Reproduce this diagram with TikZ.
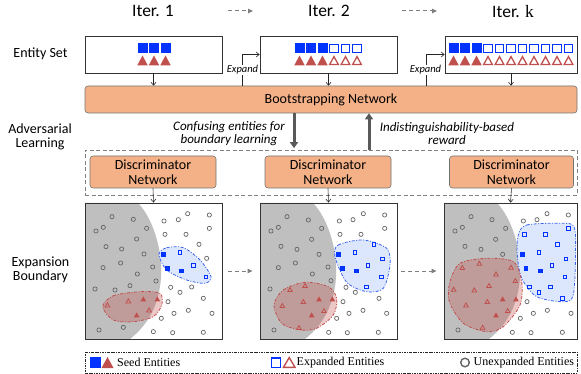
\documentclass[tikz,border=0pt]{standalone}
\usepackage{fontspec}
\setmainfont{Carlito}
\newfontfamily\legfont{Liberation Serif}
\usetikzlibrary{arrows.meta}
\definecolor{orng}{RGB}{244,177,136}
\definecolor{bl}{RGB}{0,51,255}
\definecolor{bdl}{RGB}{60,100,240}
\definecolor{rd}{RGB}{192,80,77}
\definecolor{lbl}{RGB}{220,230,252}
\definecolor{gr}{RGB}{191,191,191}
\definecolor{dk}{RGB}{89,89,89}
\definecolor{cgr}{RGB}{100,100,100}
\tikzset{
 bsqF/.pic={\fill[fill=bl] (-5,-5) rectangle (5,5);},
 bsqO/.pic={\filldraw[draw=bl,fill=white,line width=1.3pt] (-4.3,-4.3) rectangle (4.3,4.3);},
 btrF/.pic={\fill[fill=rd] (-5.2,4.8) -- (5.2,4.8) -- (0,-5) -- cycle;},
 btrO/.pic={\filldraw[draw=rd,fill=white,line width=1.3pt,line join=miter] (-4.4,4.1) -- (4.4,4.1) -- (0,-3.9) -- cycle;},
 ssqF/.pic={\fill[fill=bl] (-2.4,-2.4) rectangle (2.4,2.4);},
 ssqO/.pic={\draw[draw=bl,line width=0.9pt] (-1.9,-1.9) rectangle (1.9,1.9);},
 strF/.pic={\fill[fill=rd] (-2.8,2.3) -- (2.8,2.3) -- (0,-2.6) -- cycle;},
 strO/.pic={\draw[draw=rd,line width=0.8pt] (-2.3,1.9) -- (2.3,1.9) -- (0,-2.1) -- cycle;},
 cir/.pic={\draw[draw=cgr,line width=0.7pt] (0,0) circle (2.1);},
}
\begin{document}
\begin{tikzpicture}[x=1pt,y=-1pt,
  ebox/.style={draw=black!80,line width=0.8pt,inner sep=0pt,minimum height=37pt},
  bbox/.style={draw=black!80,line width=0.9pt,inner sep=0pt,minimum height=136pt},
  onode/.style={draw=black!55,line width=0.6pt,fill=orng,rounded corners=3pt,
     font=\fontsize{14}{14.5}\selectfont,align=center,inner sep=0pt},
  arr/.style={draw=black!85,line width=0.6pt,-{Straight Barb[length=3pt,width=5pt]}},
  thk/.style={draw=dk,line width=3pt,-{Triangle[length=6pt,width=8pt]}},
  gdash/.style={draw=gray,line width=1pt,dash pattern=on 4pt off 3pt,-{Triangle[length=5pt,width=4.5pt]}},
  lab/.style={font=\fontsize{14}{14}\selectfont,align=center,inner sep=0pt},
  itlab/.style={font=\fontsize{13}{13.5}\selectfont\itshape,align=center,inner sep=0pt},
  explbl/.style={font=\fontsize{10.5}{12}\selectfont\itshape,fill=white,inner sep=0.8pt},
  bblob/.style={fill=lbl,draw=bdl,line width=0.8pt,dash pattern=on 3pt off 1.5pt on 1pt off 1.5pt},
  rblob/.style={fill=rd,fill opacity=0.32,draw=rd,draw opacity=1,line width=0.8pt,dash pattern=on 3pt off 1.5pt on 1pt off 1.5pt},
  legtext/.style={font=\legfont\fontsize{12}{12}\selectfont,inner sep=0pt,anchor=west},
]
\useasboundingbox (0,0) rectangle (581,374);

% ---------- titles ----------
\node[font=\fontsize{17.5}{18}\selectfont,inner sep=0pt] (it1) at (153,11) {Iter. 1};
\node[font=\fontsize{17.5}{18}\selectfont,inner sep=0pt] (it2) at (329,11) {Iter. 2};
\node[font=\fontsize{17.5}{18}\selectfont,inner sep=0pt] (itk) at (513,11) {Iter. {\legfont k}};
\coordinate (ia1) at (228,11); \coordinate (ia2) at (253,11);
\coordinate (ib1) at (402,11); \coordinate (ib2) at (437,11);
\draw[gdash] (ia1) -- (ia2);
\draw[gdash] (ib1) -- (ib2);

% ---------- left labels ----------
\node[lab] (lent) at (40.5,54) {Entity Set};
\node[lab] (ladv) at (40,137) {Adversarial\\Learning};
\node[lab] (lexp) at (40.5,270) {Expansion\\Boundary};

% ---------- entity sets ----------
\node[ebox,minimum width=137pt] (e1) at (153.5,54.5) {};
\node[ebox,minimum width=137pt] (e2) at (328.5,54.5) {};
\node[ebox,minimum width=132pt] (e3) at (511,54.5) {};
\foreach \i in {0,1,2} {
  \pic at ({142.5+11.5*\i},48.5) {bsqF}; \pic at ({142.5+11.5*\i},60.5) {btrF};
  \pic at ({299.5+11.5*\i},48.5) {bsqF}; \pic at ({299.5+11.5*\i},60.5) {btrF};
  \pic at ({453.5+11.5*\i},48.5) {bsqF}; \pic at ({453.5+11.5*\i},60.5) {btrF};
}
\foreach \i in {3,4,5} {
  \pic at ({299.5+11.5*\i},48.5) {bsqO}; \pic at ({299.5+11.5*\i},60.5) {btrO};
}
\foreach \i in {3,...,10} {
  \pic at ({453.5+11.5*\i},48.5) {bsqO}; \pic at ({453.5+11.5*\i},60.5) {btrO};
}

% ---------- bootstrapping network ----------
\node[onode,minimum width=492pt,minimum height=27pt] (boot) at (331,99.5) {Bootstrapping Network};
\draw[arr] (e1.south) -- (e1.south |- boot.north);
\draw[arr] (e2.south) -- (e2.south |- boot.north);
\draw[arr] (e3.south) -- (e3.south |- boot.north);
\coordinate (x1) at (242,0);
\coordinate (x2) at (426,0);
\draw[arr] (boot.north -| x1) |- (e2.west);
\draw[arr] (boot.north -| x2) |- (e3.west);
\node[explbl] (ex1) at (242.5,70) {Expand};
\node[explbl] (ex2) at (425.5,70) {Expand};

% ---------- adversarial learning ----------
\node[draw=gray,line width=0.7pt,dash pattern=on 4pt off 2.5pt,minimum width=492pt,minimum height=45pt,inner sep=0pt] (adv) at (331,172.5) {};
\node[onode,minimum width=126pt,minimum height=32pt] (d1) at (153,172) {Discriminator\\Network};
\node[onode,minimum width=126pt,minimum height=32pt] (d2) at (328,172) {Discriminator\\Network};
\node[onode,minimum width=124pt,minimum height=32pt] (d3) at (511.5,172) {Discriminator\\Network};
\coordinate (dn) at (294,0);
\coordinate (upc) at (369,0);
\draw[thk,shorten >=1.5pt] (boot.south -| dn) -- (adv.north -| dn);
\draw[thk] (adv.north -| upc) -- (boot.south -| upc);
\node[itlab] (conf) at (229,133.5) {Confusing entities for\\boundary learning};
\node[itlab] (indi) at (447,133.5) {Indistinguishability-based\\reward};

% ---------- boundary box 1 ----------
\fill[gr] (85,203) -- (138,203) .. controls (160,225) and (180,300) .. (130,339) -- (85,339) -- cycle;
\filldraw[bblob] plot[smooth cycle] coordinates {(159,254.3) (166.7,247.7) (183.3,247.7) (200,260) (211,276.7) (205,283.3) (186.7,280) (166.7,270)};
\filldraw[rblob] plot[smooth cycle] coordinates {(102.7,306.7) (113.3,295.7) (140,291.7) (160,293.3) (161.7,305) (153.3,316.7) (133.3,321.7) (113.3,320)};
\foreach \x/\y in {96/65,160/73,70/97,48/108,200/100,252/78,295/74,323/56,388/60,388/100,170/132,78/155,125/162,255/118,318/118,192/177,357/148,69/218,122/204,218/216,380/190,172/237,150/272,45/282,105/285,228/258,272/277,300/292,335/276,370/310,264/320,282/355,325/346,396/355,244/370,57/405,130/397,220/410,278/413,370/412}
  \pic at ({80+\x/3},{195+\y/3}) {cir};
\foreach \x/\y in {250/178,262/220,305/228} \pic at ({80+\x/3},{195+\y/3}) {ssqF};
\foreach \x/\y in {300/172,340/212,378/246} \pic at ({80+\x/3},{195+\y/3}) {ssqO};
\foreach \x/\y in {82/330,145/318,207/345} \pic at ({80+\x/3},{195+\y/3}) {strO};
\foreach \x/\y in {190/312,232/312,170/360} \pic at ({80+\x/3},{195+\y/3}) {strF};
\node[bbox,minimum width=137pt] (b1) at (153.5,271) {};

% ---------- boundary box 2 ----------
\begin{scope}[xshift=175pt]
\fill[gr] (85,203) -- (138,203) .. controls (160,225) and (180,300) .. (130,339) -- (85,339) -- cycle;
\end{scope}
\filldraw[bblob] plot[smooth cycle] coordinates {(335,256.7) (338.3,245) (363.3,240) (386.7,248.3) (390,265) (383.3,288.3) (366.7,291.7) (346.7,282.3)};
\filldraw[rblob] plot[smooth cycle] coordinates {(274,305) (283.3,290) (305,282.3) (328.3,286.7) (336.7,298.3) (333.3,315) (316.7,328.3) (300,330) (281.7,323.3)};
\foreach \x/\y in {111/65,175/75,63/108,85/97,215/100,268/78,309/74,340/56,404/60,404/100,185/133,93/154,141/163,270/118,333/118,207/178,85/218,136/204,234/216,187/237,243/257,60/282,288/277,316/292,387/310,279/320,297/355,339/346,410/355,260/370,72/405,236/412,292/413,385/412}
  \pic at ({250+\x/3},{195+\y/3}) {cir};
\foreach \x/\y in {265/178,277/220,320/228} \pic at ({250+\x/3},{195+\y/3}) {ssqF};
\foreach \x/\y in {315/172,372/148,397/192,354/211,394/246,350/276} \pic at ({250+\x/3},{195+\y/3}) {ssqO};
\foreach \x/\y in {165/272,120/284,97/332,160/320,222/347,147/398} \pic at ({250+\x/3},{195+\y/3}) {strO};
\foreach \x/\y in {207/312,247/312,185/360} \pic at ({250+\x/3},{195+\y/3}) {strF};
\node[bbox,minimum width=137pt] (b2) at (328.5,271) {};

% ---------- boundary box 3 ----------
\begin{scope}
\clip (444,203) rectangle (577,339);
\begin{scope}[xshift=359pt]
\fill[gr] (85,203) -- (138,203) .. controls (160,225) and (180,300) .. (130,339) -- (85,339) -- cycle;
\end{scope}
\filldraw[bblob] plot[smooth cycle] coordinates {(518.3,235) (526.7,225) (560,223.3) (574,226.7) (575.5,255) (573.3,295) (563.3,301.7) (536.7,296.7) (521.7,278.3) (517.3,255)};
\filldraw[rblob] plot[smooth cycle] coordinates {(450,281.7) (460,263.3) (486.7,258.3) (513.3,261.7) (521.7,281.7) (520,305) (503.3,326.7) (486.7,331.7) (463.3,323.3) (449.3,301.7)};
\end{scope}
\foreach \x/\y in {183/65,246/74,135/108,157/97,287/100,340/78,381/74,411/56,475/60,257/133,165/154,213/163,278/178,351/320,370/355,412/346,483/355,331/370,144/405,307/412,363/413,457/412}
  \pic at ({410+\x/3},{195+\y/3}) {cir};
\foreach \x/\y in {337/178,348/220,392/228} \pic at ({410+\x/3},{195+\y/3}) {ssqF};
\foreach \x/\y in {343/118,406/118,475/100,443/148,387/172,468/192,426/211,465/246,359/276,387/292,422/276,457/310} \pic at ({410+\x/3},{195+\y/3}) {ssqO};
\foreach \x/\y in {208/205,157/218,258/237,316/257,131/283,193/285,237/272,168/330,232/320,293/347,218/397,303/217} \pic at ({410+\x/3},{195+\y/3}) {strO};
\foreach \x/\y in {278/312,318/312,258/360} \pic at ({410+\x/3},{195+\y/3}) {strF};
\node[bbox,minimum width=133pt] (b3) at (510.5,271) {};

\draw[arr] (d1.south) -- (b1.north);
\draw[arr] (d2.south) -- (b2.north);
\draw[arr] (d3.south) -- (b3.north);
\draw[gdash] ([xshift=6pt]b1.east) -- ([xshift=-7pt]b2.west);
\draw[gdash] ([xshift=4pt]b2.east) -- ([xshift=-7pt]b3.west);

% ---------- legend ----------
\node[draw=black!85,line width=0.7pt,dash pattern=on 2.5pt off 1pt on 0.8pt off 1pt,minimum width=492pt,minimum height=21pt,inner sep=0pt] (leg) at (331,362.5) {};
\fill[fill=bl] (90,357) rectangle (101,368);
\fill[fill=rd] (101.5,368) -- (113.5,368) -- (107.5,357) -- cycle;
\node[legtext] (lg1) at (117,362.8) {Seed Entities};
\draw[draw=bl,line width=1.4pt] (271.5,357.8) rectangle (280.5,367.2);
\draw[draw=rd,line width=1.4pt,line join=miter] (283.5,367.3) -- (295,367.3) -- (289.2,357.6) -- cycle;
\node[legtext] (lg2) at (296.5,362.8) {Expanded Entities};
\draw[draw=cgr,line width=1.4pt] (465,362.5) circle (4.3);
\node[legtext] (lg3) at (473.5,362.8) {Unexpanded Entities};
\end{tikzpicture}
\end{document}
